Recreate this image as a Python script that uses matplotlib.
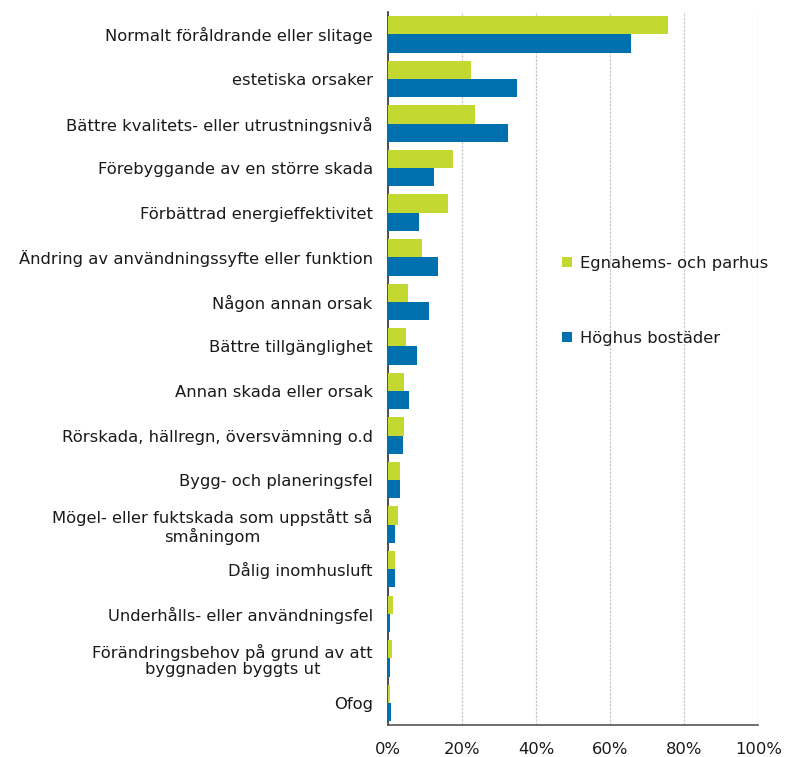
import matplotlib.pyplot as plt
import numpy as np

categories = [
    "Normalt föråldrande eller slitage",
    "estetiska orsaker",
    "Bättre kvalitets- eller utrustningsnivå",
    "Förebyggande av en större skada",
    "Förbättrad energieffektivitet",
    "Ändring av användningssyfte eller funktion",
    "Någon annan orsak",
    "Bättre tillgänglighet",
    "Annan skada eller orsak",
    "Rörskada, hällregn, översvämning o.d",
    "Bygg- och planeringsfel",
    "Mögel- eller fuktskada som uppstått så\nsmåningom",
    "Dålig inomhusluft",
    "Underhålls- eller användningsfel",
    "Förändringsbehov på grund av att\nbyggnaden byggts ut",
    "Ofog",
]
egnahem = [75.5, 22.3, 23.6, 17.5, 16.2, 9.3, 5.3, 4.9, 4.4, 4.4, 3.2, 2.7, 1.9, 1.4, 1.1, 0.6]
hoghus = [65.6, 34.9, 32.3, 12.3, 8.4, 13.6, 11.0, 7.9, 5.8, 4.1, 3.2, 1.9, 1.9, 0.6, 0.6, 0.8]
xticks = [0, 20, 40, 60, 80, 100]

green = "#c3d831"
blue = "#0070ae"
fs = 11.8

plt.rcParams['font.family'] = ['DejaVu Sans']

fig = plt.figure(figsize=(7.87, 7.57), dpi=100)
ax = fig.add_axes([0.493, 0.042, 0.4705, 0.942])

y = np.arange(len(categories))
h = 0.41
ax.barh(y - h / 2, egnahem, height=h, color=green, label="Egnahems- och parhus", zorder=3)
ax.barh(y + h / 2, hoghus, height=h, color=blue, label="Höghus bostäder", zorder=3)

ax.set_ylim(len(categories) - 0.5, -0.5)
ax.set_xlim(0, 100)
ax.set_yticks(y)
ax.set_yticklabels(categories, fontsize=fs, color="#1a1a1a", multialignment="center",
                   linespacing=1.1)
ax.set_xticks(xticks)
ax.set_xticklabels([f"{t}%" for t in xticks], fontsize=fs, color="#1a1a1a")
ax.tick_params(axis="both", length=0)
ax.tick_params(axis="y", pad=11)
ax.tick_params(axis="x", pad=12)

ax.grid(axis="x", color="#c8c8c8", linestyle=(0, (2, 1)), linewidth=0.9, zorder=0)
for s in ["top", "right"]:
    ax.spines[s].set_visible(False)
ax.spines["left"].set_color("#333333")
ax.spines["left"].set_linewidth(1.2)
ax.spines["bottom"].set_color("#555555")
ax.spines["bottom"].set_linewidth(1.2)

leg = ax.legend(loc="upper left", bbox_to_anchor=(0.431, 0.679), frameon=False,
                fontsize=fs, handlelength=0.6, handleheight=0.6,
                handletextpad=0.5, labelspacing=3.65)
for t in leg.get_texts():
    t.set_color("#1a1a1a")

fig.savefig("out.png", dpi=100)
